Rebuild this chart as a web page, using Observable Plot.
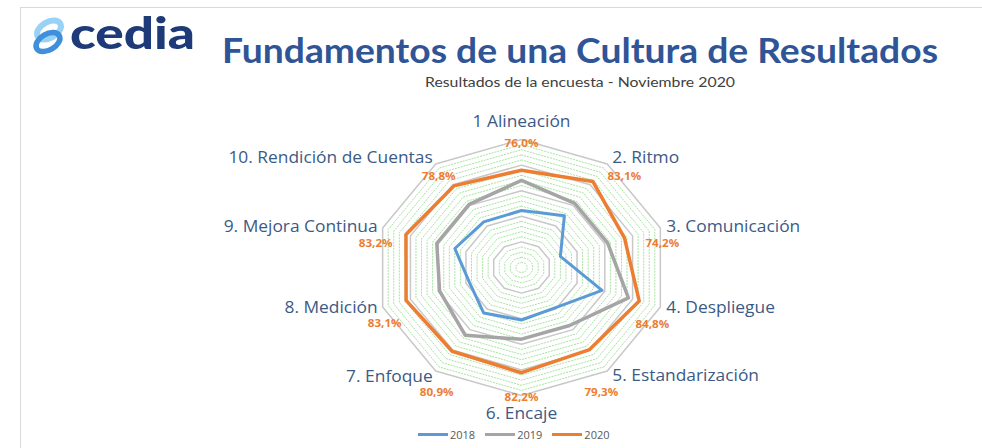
<!DOCTYPE html>
<html>
<head>
<meta charset="utf-8">
<script src="https://cdn.jsdelivr.net/npm/d3@7"></script>
<script src="https://cdn.jsdelivr.net/npm/@observablehq/plot@0.6"></script>
<style>
  html, body { margin: 0; padding: 0; background: #fff; }
  #page { position: relative; width: 982px; height: 448px; overflow: hidden; background: #fff; font-family: "Open Sans", sans-serif; }
  #frame { position: absolute; left: 20px; top: 7px; width: 980px; height: 460px; border-left: 1px solid #d9d9d9; border-top: 1px solid #d9d9d9; }
  #chart { position: absolute; left: 0; top: 0; }
  #head { position: absolute; left: 0; top: 0; }
  #legend { position: absolute; left: 418px; top: 427px; display: flex; align-items: center; font-size: 11px; color: #595959; font-family: "Open Sans", sans-serif; }
  #legend .item { display: flex; align-items: center; margin-right: 10px; }
  #legend .sw { width: 30px; height: 3px; margin-right: 2px; }
</style>
</head>
<body>
<div id="page">
  <div id="frame"></div>
  <div id="chart"></div>
  <svg id="head" width="982" height="100" xmlns="http://www.w3.org/2000/svg">
    <g transform="translate(31,19)">
      <ellipse cx="18" cy="11" rx="13" ry="8" transform="rotate(-30 18 11)" fill="none" stroke="#9ad2f6" stroke-width="6"/>
      <ellipse cx="17" cy="23" rx="13" ry="8" transform="rotate(-30 17 23)" fill="none" stroke="#3f8fdc" stroke-width="5.5"/>
    </g>
    <text x="70" y="49" font-family="Lato, sans-serif" font-weight="900" font-size="44" fill="#1f3a78" textLength="125" lengthAdjust="spacingAndGlyphs">cedia</text>
    <text x="222" y="63" font-family="Lato, sans-serif" font-weight="700" font-size="35" fill="#2f5597" textLength="716" lengthAdjust="spacingAndGlyphs">Fundamentos de una Cultura de Resultados</text>
    <text x="425" y="87" font-family="Lato, sans-serif" font-size="13.5" fill="#404040" textLength="310" lengthAdjust="spacingAndGlyphs">Resultados de la encuesta - Noviembre 2020</text>
  </svg>
  <div id="legend"></div>
</div>
<script>
// ---- data ----
const categories = ["1 Alineación", "2. Ritmo", "3. Comunicación", "4. Despliegue", "5. Estandarización",
                    "6. Encaje", "7. Enfoque", "8. Medición", "9. Mejora Continua", "10. Rendición de Cuentas"];
const years = ["2018", "2019", "2020"];
const values2018 = [44.5, 50, 28, 58, 39, 41, 44, 37.5, 48, 44];
const values2019 = [68, 62, 62, 77, 56, 56, 65.5, 59, 61, 61];
const values2020 = [76.0, 83.1, 74.2, 84.8, 79.3, 82.2, 80.9, 83.1, 83.2, 78.8];
const valueMax = 100;
const majorStep = 20;
const minorStep = 4;

// ---- layout / style ----
const colors = {"2018": "#5b9bd5", "2019": "#a5a5a5", "2020": "#ed7d31"};
const widths = {"2018": 3, "2019": 3.5, "2020": 3.5};
const n = categories.length;
const ang = i => i * 2 * Math.PI / n;
const px = (i, r) => (r / valueMax) * Math.sin(ang(i));
const py = (i, r) => (r / valueMax) * Math.cos(ang(i));

const catOffsets = [[0,-17,"middle"],[5,-6,"start"],[6,-1,"start"],[6,1,"start"],[5,5,"start"],
                    [0,19,"middle"],[-3,6,"end"],[-5,1,"end"],[-5,-1,"end"],[-3,-6,"end"]];
const pctOffsets = [[0,4],[17,13],[2,16],[-8,17],[-6,21],[0,2],[1,21],[2,16],[-7,16],[3,13]];

const series = [values2018, values2019, values2020];
const rows = [];
years.forEach((y, k) => series[k].forEach((v, i) => rows.push({year: y, i, value: v})));

const rings = [];
for (let lv = minorStep; lv <= valueMax; lv += minorStep) {
  for (let i = 0; i < n; i++) rings.push({level: lv, i, major: lv % majorStep === 0});
}
const minorRings = rings.filter(d => !d.major);
const majorRings = rings.filter(d => d.major);

const catRows = categories.map((c, i) => ({c, i, dx: catOffsets[i][0], dy: catOffsets[i][1], anchor: catOffsets[i][2]}));
const pctRows = values2020.map((v, i) => ({v, i, dx: pctOffsets[i][0], dy: pctOffsets[i][1]}));

const marks = [
  Plot.line(minorRings, {x: d => px(d.i, d.level), y: d => py(d.i, d.level), z: "level", curve: "linear-closed",
    stroke: "#a6e3a0", strokeWidth: 1, strokeDasharray: "1.2,1.8"}),
  Plot.line(majorRings, {x: d => px(d.i, d.level), y: d => py(d.i, d.level), z: "level", curve: "linear-closed",
    stroke: "#c8c8c8", strokeWidth: 1.5})
];
years.forEach(y => {
  marks.push(Plot.line(rows.filter(d => d.year === y), {x: d => px(d.i, d.value), y: d => py(d.i, d.value),
    curve: "linear-closed", stroke: colors[y], strokeWidth: widths[y], strokeLinejoin: "round"}));
});
catRows.forEach(d => {
  marks.push(Plot.text([d], {x: r => px(r.i, valueMax), y: r => py(r.i, valueMax), text: "c",
    textAnchor: d.anchor, dx: d.dx, dy: d.dy, fill: "#3b5a85", fontSize: 15.5, fontFamily: "Open Sans, sans-serif"}));
});
pctRows.forEach(d => {
  marks.push(Plot.text([d], {x: r => px(r.i, valueMax), y: r => py(r.i, valueMax),
    text: r => r.v.toFixed(1).replace(".", ",") + "%", textAnchor: "middle", dx: d.dx, dy: d.dy,
    fill: "#ed7d31", fontSize: 11, fontWeight: "bold", fontFamily: "Open Sans, sans-serif"}));
});

const chart = Plot.plot({
  width: 982, height: 448,
  marginTop: 0, marginRight: 0, marginBottom: 0, marginLeft: 0,
  x: {domain: [-1, 1], range: [375, 667], axis: null},
  y: {domain: [-1, 1], range: [395, 139], axis: null},
  style: {background: "transparent", overflow: "visible"},
  marks
});
document.getElementById("chart").appendChild(chart);

// the reference's lettering is drawn slightly wide: stretch the texts horizontally
chart.querySelectorAll('g[aria-label="text"]').forEach(g => {
  const isPct = (g.getAttribute("fill") || "").toLowerCase() === "#ed7d31";
  g.querySelectorAll("text").forEach(t => {
    const w = t.getComputedTextLength();
    t.setAttribute("textLength", (w * (isPct ? 1.06 : 1.12)).toFixed(1));
    t.setAttribute("lengthAdjust", "spacingAndGlyphs");
  });
});

const legend = document.getElementById("legend");
years.forEach(y => {
  const it = document.createElement("div");
  it.className = "item";
  it.innerHTML = `<span class="sw" style="background:${colors[y]}"></span><span>${y}</span>`;
  legend.appendChild(it);
});
</script>
</body>
</html>
